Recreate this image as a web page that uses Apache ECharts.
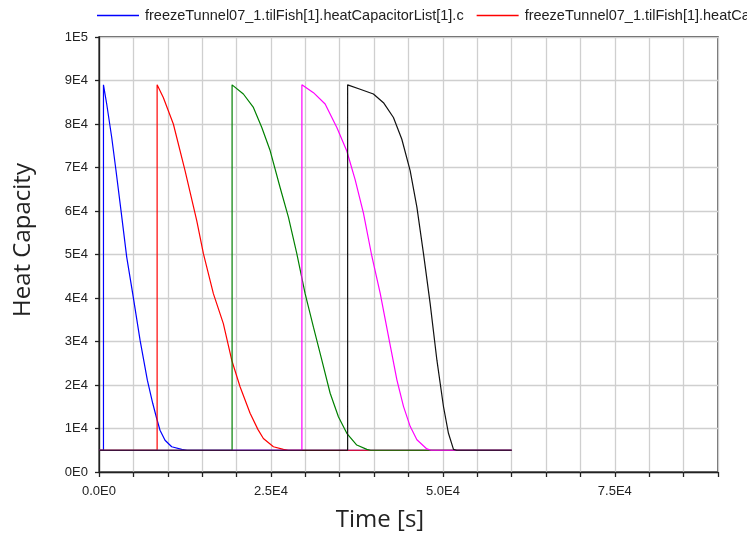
<!DOCTYPE html>
<html>
<head>
<meta charset="utf-8">
<script src="https://cdn.jsdelivr.net/npm/echarts@6/dist/echarts.min.js"></script>
<style>html,body{margin:0;padding:0;background:#fff}#c{width:747px;height:537px}</style>
</head>
<body>
<div id="c"></div>
<script>
// Series names
const seriesNames = [
  'freezeTunnel07_1.tilFish[1].heatCapacitorList[1].c',
  'freezeTunnel07_1.tilFish[1].heatCapacitorList[2].c',
  'freezeTunnel07_1.tilFish[1].heatCapacitorList[3].c',
  'freezeTunnel07_1.tilFish[1].heatCapacitorList[4].c',
  'freezeTunnel07_1.tilFish[1].heatCapacitorList[5].c'
];
const seriesColors = ['#0000ff', '#ff0000', '#008000', '#ff00ff', '#111111'];

// Time values [s] and heat capacity values per series
const tBlue = [0, 650, 650, 1120, 1850, 2470, 3200, 4030, 4900, 5970, 7030, 7810, 8390, 8870, 9600, 10570, 12030, 12800, 60000];
const cBlue = [5000, 5000, 89000, 84600, 76900, 69300, 60100, 49400, 41000, 30300, 21100, 15800, 12300, 9600, 7300, 5800, 5200, 5000, 5000];

const tRed = [0, 8450, 8450, 9350, 10810, 12510, 14210, 15180, 16630, 18080, 19300, 20510, 21970, 23100, 23900, 25360, 26810, 27500, 60000];
const cRed = [5000, 5000, 89000, 86100, 80000, 69300, 57800, 50200, 41000, 34100, 25700, 19600, 13500, 9800, 7700, 5800, 5200, 5000, 5000];

const tGreen = [0, 19350, 19350, 20990, 22450, 23670, 24880, 26330, 27540, 28760, 29970, 31180, 32400, 33610, 34810, 36030, 37480, 38940, 39500, 60000];
const cGreen = [5000, 5000, 89000, 86900, 83800, 79200, 73900, 65400, 58600, 50200, 41000, 33300, 25700, 18100, 12700, 8900, 6200, 5200, 5000, 5000];

const tMagenta = [0, 29500, 29500, 31180, 32880, 34580, 36030, 37240, 38450, 39670, 40880, 42090, 43310, 44270, 45240, 46220, 47670, 48300, 60000];
const cMagenta = [5000, 5000, 89000, 87200, 84600, 79200, 73800, 67200, 59500, 49600, 41100, 31200, 21200, 15100, 10500, 7400, 5300, 5000, 5000];

const tBlack = [0, 36150, 36150, 37970, 39900, 41360, 42810, 44030, 45240, 46220, 47180, 48150, 49130, 50090, 50810, 51540, 52000, 60000];
const cBlack = [5000, 5000, 89000, 88000, 86900, 84900, 81500, 76500, 69300, 60900, 50200, 38700, 25700, 15000, 8900, 5200, 5000, 5000];

// Axis ranges / tick spacing
const xMin = 0, xMax = 90000, xStep = 5000, xLabelStep = 25000;
const yMin = 0, yMax = 100000, yStep = 10000;

const times = [tBlue, tRed, tGreen, tMagenta, tBlack];
const values = [cBlue, cRed, cGreen, cMagenta, cBlack];

function zip(a, b) { return a.map((v, i) => [v, b[i]]); }

function fmtX(v) {
  if (v % xLabelStep !== 0) return '';
  if (v === 0) return '0.0E0';
  const e = Math.floor(Math.log10(v));
  const m = v / Math.pow(10, e);
  return m.toFixed(1) + 'E' + e;
}
function fmtY(v) {
  if (v === 0) return '0E0';
  const e = Math.floor(Math.log10(v) + 1e-9);
  const m = Math.round(v / Math.pow(10, e));
  return m + 'E' + e;
}

const chart = echarts.init(document.getElementById('c'), null, { renderer: 'canvas' });
const font = '"Liberation Sans", Arial, sans-serif';
chart.setOption({
  animation: false,
  backgroundColor: '#ffffff',
  grid: { left: 99, right: 29, top: 37, bottom: 65, show: true, borderColor: '#222', borderWidth: 1.3, backgroundColor: 'transparent' },
  legend: {
    left: 92, top: 3, width: 3000,
    itemWidth: 42, itemHeight: 1.5, itemGap: 13,
    icon: 'rect',
    textStyle: { fontFamily: font, fontSize: 14.5, color: '#222', padding: [0, 0, 0, 1] },
    data: seriesNames
  },
  xAxis: {
    type: 'value', min: xMin, max: xMax, interval: xStep,
    axisLine: { show: true, onZero: false, lineStyle: { color: '#222', width: 1.3 } },
    axisTick: { show: true, length: 5, lineStyle: { color: '#222', width: 1.3 } },
    axisLabel: { formatter: fmtX, fontFamily: font, fontSize: 13, color: '#222', margin: 13, showMaxLabel: true, hideOverlap: false },
    splitLine: { show: true, lineStyle: { color: '#cfcfcf', width: 1.3 } }
  },
  yAxis: {
    type: 'value', min: yMin, max: yMax, interval: yStep,
    axisLine: { show: true, onZero: false, lineStyle: { color: '#222', width: 1.3 } },
    axisTick: { show: true, length: 4, lineStyle: { color: '#222', width: 1.3 } },
    axisLabel: { formatter: fmtY, fontFamily: font, fontSize: 13, color: '#222', margin: 11 },
    splitLine: { show: true, lineStyle: { color: '#cfcfcf', width: 1.3 } }
  },
  graphic: [
    { type: 'text', x: 380, y: 520, style: { text: 'Time [s]', font: '24px "Open Sans", sans-serif', fill: '#222', align: 'center', verticalAlign: 'middle' } },
    { type: 'text', x: 23, y: 240, rotation: Math.PI / 2, style: { text: 'Heat Capacity', font: '24px "Open Sans", sans-serif', fill: '#222', align: 'center', verticalAlign: 'middle' } }
  ],
  series: seriesNames.map((name, i) => ({
    name: name,
    type: 'line',
    symbol: 'none',
    color: seriesColors[i],
    lineStyle: { width: 1.2, color: seriesColors[i] },
    data: zip(times[i], values[i])
  }))
});
</script>
</body>
</html>
